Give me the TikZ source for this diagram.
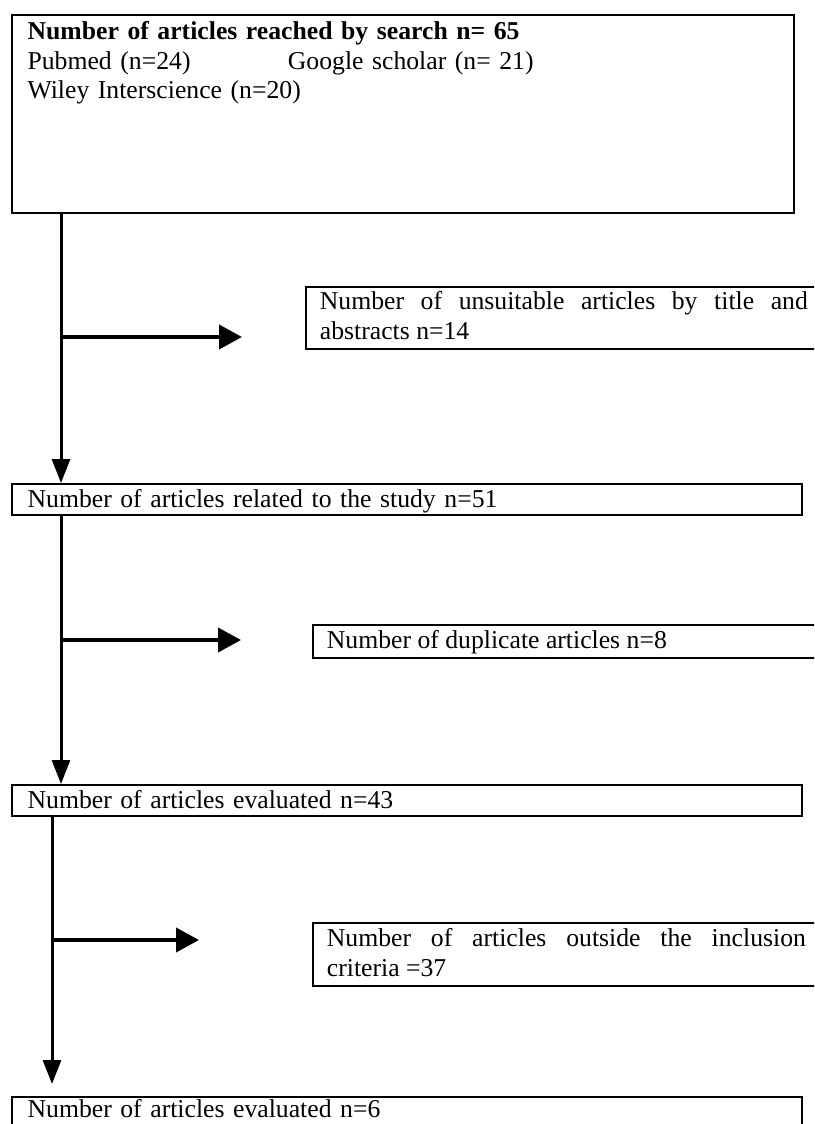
\documentclass[tikz,border=0pt]{standalone}
\usepackage{fontspec}
\setmainfont{Liberation Serif}
\usetikzlibrary{arrows.meta}

\begin{document}
\begin{tikzpicture}[x=1pt, y=-1pt,
    box/.style={draw, line width=1.8pt, anchor=north west, inner ysep=0pt,
      font=\fontsize{25.7}{29.5}\selectfont},
    mainbox/.style={box, inner xsep=16pt, text width=758.3pt, align=left,
      text height=24pt, text depth=7pt},
    sidebox/.style={box, inner xsep=14pt, align=justify},
    down/.style={line width=3pt, -{Triangle[length=24pt, width=18pt]}},
    side/.style={line width=4pt, -{Triangle[length=23pt, width=24pt]}}]
          \path[use as bounding box, clip] (0,0) rectangle (814,1124);

          \node[box, inner xsep=16pt, text width=750pt, align=left, text height=25pt, text depth=173pt] (nS) at (10.7,14)
            {\textbf{Number of articles reached by search n= 65}\\
             \makebox[260.3pt][l]{Pubmed (n=24)}Google scholar (n= 21)\\
             Wiley Interscience (n=20)};
          \node[mainbox] (n51) at (10.7,483) {Number of articles related to the study n=51};
          \node[mainbox] (n43) at (10.7,784) {Number of articles evaluated n=43};
          \node[mainbox, text height=21pt, text depth=10pt] (n6) at (10.7,1096) {Number of articles evaluated n=6};

          \node[sidebox, text width=488pt, text height=23pt, text depth=39pt] (n14) at (305,286)
            {Number of unsuitable articles by title and\linebreak abstracts n=14};
          \node[sidebox, text width=480pt, text height=24pt, text depth=9pt] (n8) at (312,624)
            {Number of duplicate articles n=8};
          \node[sidebox, text width=479pt, text height=24pt, text depth=39pt] (n37) at (312,922)
            {Number of articles outside the inclusion\linebreak criteria =37};

          \coordinate (s1) at (61,0);
          \coordinate (s2) at (52,0);
          \coordinate (b14) at (61,337);
          \coordinate (e14) at (242,337);
          \coordinate (b8) at (61,640);
          \coordinate (e8) at (241,640);
          \coordinate (b37) at (52,940);
          \coordinate (e37) at (199,940);

          \draw[down] (nS.south -| s1) -- (n51.north -| s1);
          \draw[down] (n51.south -| s1) -- (n43.north -| s1);
          \draw[down, shorten >=12pt] (n43.south -| s2) -- (n6.north -| s2);

          \draw[side] (b14) -- (e14);
          \draw[side] (b8) -- (e8);
          \draw[side] (b37) -- (e37);
        \end{tikzpicture}
\end{document}
